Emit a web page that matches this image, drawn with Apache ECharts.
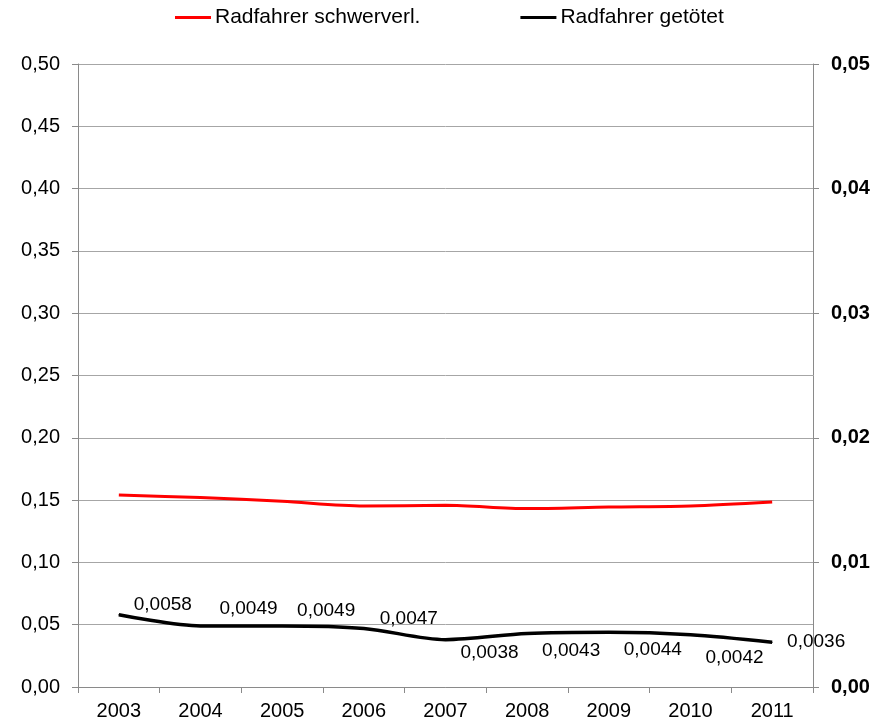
<!DOCTYPE html>
<html>
<head>
<meta charset="utf-8">
<script src="https://cdn.jsdelivr.net/npm/echarts@6/dist/echarts.min.js"></script>
<style>
html,body{margin:0;padding:0;background:#fff;}
#chart{width:889px;height:722px;}
</style>
</head>
<body>
<div id="chart"></div>
<script>
const years = ['2003','2004','2005','2006','2007','2008','2009','2010','2011'];
const schwerverl = [0.154, 0.152, 0.149, 0.1453, 0.1458, 0.1432, 0.1445, 0.1453, 0.1485];
const getoetet = [0.0058, 0.0049, 0.0049, 0.0047, 0.0038, 0.0043, 0.0044, 0.0042, 0.0036];
const leftTicks = { min: 0, max: 0.5, interval: 0.05 };
const rightTicks = { min: 0, max: 0.05, interval: 0.01 };
const seriesNames = ['Radfahrer schwerverl.', 'Radfahrer getötet'];

// label placement style (offsets in px relative to each point)
const labelShift = [[44,-10],[48,-17],[44,-15],[45,-10],[44,13],[44,17],[44,18],[44,23],[44,0]];

const fmt = (v, d) => v.toFixed(d).replace('.', ',');
const FONT = 'Liberation Sans, Arial, sans-serif';

const chart = echarts.init(document.getElementById('chart'));
chart.setOption({
  animation: false,
  backgroundColor: '#ffffff',
  textStyle: { fontFamily: FONT },
  legend: {
    left: 170, top: 2,
    itemWidth: 36, itemHeight: 14, itemGap: 100,
    textStyle: { fontSize: 21, color: '#000', fontFamily: FONT, padding: [0, 0, 0, -1] },
    data: [
      { name: seriesNames[0], icon: 'path://M0,6 L36,6 L36,9 L0,9 Z' },
      { name: seriesNames[1], icon: 'path://M0,6 L36,6 L36,9 L0,9 Z' }
    ]
  },
  grid: { left: 78, right: 76, top: 64, bottom: 35, containLabel: false },
  xAxis: {
    type: 'category',
    data: years,
    boundaryGap: true,
    axisLine: { lineStyle: { color: '#8a8a8a', width: 1 } },
    axisTick: { show: true, length: 6, lineStyle: { color: '#8a8a8a' }, alignWithLabel: false },
    axisLabel: { fontSize: 20, color: '#000', margin: 14, fontFamily: FONT },
    splitLine: { show: false }
  },
  yAxis: [
    {
      type: 'value', position: 'left',
      min: leftTicks.min, max: leftTicks.max, interval: leftTicks.interval,
      axisLine: { show: true, lineStyle: { color: '#8a8a8a' } },
      axisTick: { show: true, length: 6, lineStyle: { color: '#8a8a8a' } },
      axisLabel: { fontSize: 20, color: '#000', margin: 18, fontFamily: FONT, formatter: v => fmt(v, 2) },
      splitLine: { show: true, lineStyle: { color: '#a6a6a6', width: 1 } }
    },
    {
      type: 'value', position: 'right',
      min: rightTicks.min, max: rightTicks.max, interval: rightTicks.interval,
      axisLine: { show: true, lineStyle: { color: '#8a8a8a' } },
      axisTick: { show: true, length: 6, lineStyle: { color: '#8a8a8a' } },
      axisLabel: { fontSize: 20, color: '#000', fontWeight: 'bold', margin: 18, fontFamily: FONT, formatter: v => fmt(v, 2) },
      splitLine: { show: false }
    }
  ],
  series: [
    {
      name: seriesNames[0], type: 'line', yAxisIndex: 0,
      data: schwerverl,
      smooth: 0.3,
      symbol: 'none',
      color: '#ff0000',
      lineStyle: { color: '#ff0000', width: 3 }
    },
    {
      name: seriesNames[1], type: 'line', yAxisIndex: 1,
      data: getoetet.map((v, i) => ({
        value: v,
        label: { offset: labelShift[i] }
      })),
      smooth: 0.3,
      symbol: 'circle', symbolSize: 1, showSymbol: true,
      color: '#000000',
      itemStyle: { color: '#000000' },
      lineStyle: { color: '#000000', width: 3.5 },
      label: {
        show: true, position: 'inside',
        fontSize: 19, color: '#000', fontFamily: FONT,
        formatter: p => fmt(p.value, 4)
      }
    }
  ]
});
</script>
</body>
</html>
